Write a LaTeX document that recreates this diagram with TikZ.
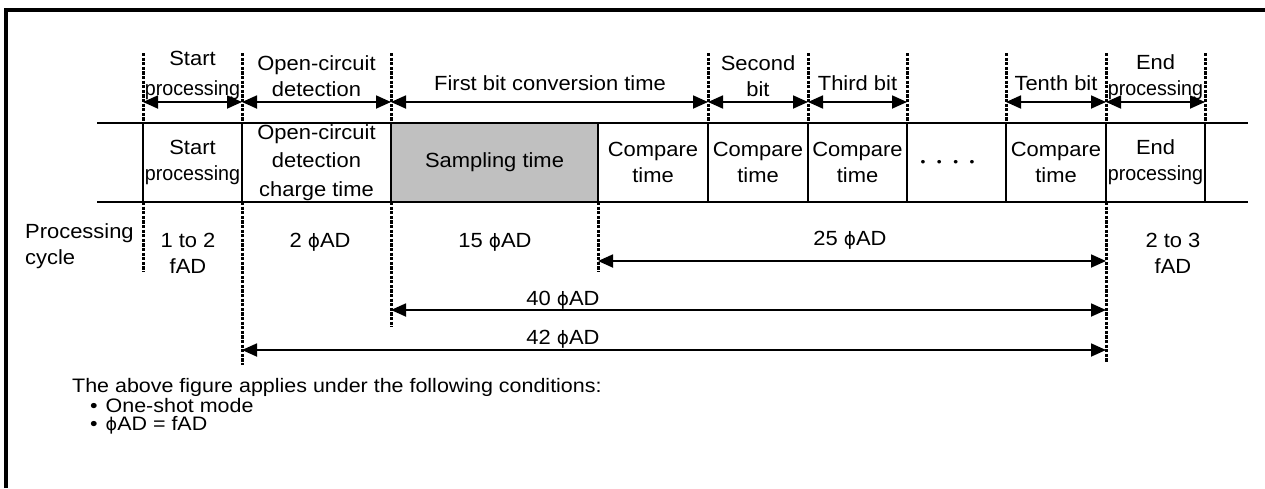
\documentclass[tikz,border=0pt]{standalone}
\usepackage{fontspec}
\setmainfont{Liberation Sans}[FakeStretch=1.07]
\newfontfamily\tightfont{Liberation Sans}[FakeStretch=0.96]
\newfontfamily\notefont{Liberation Sans}[FakeStretch=1.1]
\newfontfamily\phifont{DejaVu Sans}[Scale=0.9]
\usetikzlibrary{arrows.meta, positioning}

\definecolor{sampgray}{RGB}{192,192,192}
\newcommand\phad{{\phifont ϕ}AD}

\tikzset{
    frameline/.style={line width=4pt},
    rowline/.style={line width=2pt},
    guide/.style={line width=3pt, dash pattern=on 3.2pt off 1.4pt},
    dim/.style={line width=1.8pt, {Triangle[length=15pt,width=13pt]}-{Triangle[length=15pt,width=13pt]}},
    cell/.style={draw, line width=2pt, minimum height=79pt, inner sep=0pt, outer sep=0pt, align=center},
    lbl/.style={inner sep=0pt, align=center},
    note/.style={inner sep=0pt, anchor=base west, font=\notefont\fontsize{19.5}{20}\selectfont},
}

\begin{document}
\begin{tikzpicture}[x=1pt, y=-1pt, font=\fontsize{20.5}{26}\selectfont]
    \useasboundingbox (0,0) rectangle (1265,488);
    \draw[frameline] (6,488) -- (6,10) -- (1265,10);

    % conversion row
    \node[cell, minimum width=99pt] (start) at (192.5,162.5) {Start\\{\tightfont processing}};
    \node[cell, minimum width=149pt, font=\fontsize{20.5}{28.5}\selectfont, right=0pt of start] (open) {Open-circuit\\detection\\charge time};
    \node[cell, minimum width=207pt, fill=sampgray, right=0pt of open] (samp) {Sampling time};
    \node[cell, minimum width=110pt, right=0pt of samp] (cmpa) {Compare\\time};
    \node[cell, minimum width=100pt, right=0pt of cmpa] (cmpb) {Compare\\time};
    \node[cell, minimum width=99pt, right=0pt of cmpb] (cmpc) {Compare\\time};
    \node[cell, minimum width=99pt, right=0pt of cmpc] (dots) {\raisebox{-7pt}{\fontsize{13}{13}\selectfont •\hspace{11.5pt}•\hspace{11.5pt}•\hspace{11.5pt}•}\hspace{18pt}};
    \node[cell, minimum width=100pt, right=0pt of dots] (cmpj) {Compare\\time};
    \node[cell, minimum width=99pt, right=0pt of cmpj] (endp) {End\\{\tightfont processing}};

    \coordinate (rowtl) at (97,123);
    \coordinate (rowbl) at (97,202);
    \coordinate (rowtr) at (1248,123);
    \coordinate (rowbr) at (1248,202);
    \draw[rowline] (rowtl) -- (start.north west);
    \draw[rowline] (rowbl) -- (start.south west);
    \draw[rowline] (endp.north east) -- (rowtr);
    \draw[rowline] (endp.south east) -- (rowbr);

    % dotted guides
    \foreach \x in {143,242,391,708,808,907,1006,1106,1205}
        \draw[guide] (\x,53) -- (\x,123);
    \foreach \x/\y in {143/272,242/365,391/327,598/272,1106/362}
        \draw[guide] (\x,202) -- (\x,\y);

    % time spans on top
    \foreach \n/\x in {t0/143,t1/242,t2/391,t3/708,t4/808,t5/907,t6/1006,t7/1106,t8/1205}
        \coordinate (\n) at (\x,102);
    \draw[dim] (t0) -- (t1);
    \draw[dim] (t1) -- (t2);
    \draw[dim] (t2) -- (t3);
    \draw[dim] (t3) -- (t4);
    \draw[dim] (t4) -- (t5);
    \draw[dim] (t6) -- (t7);
    \draw[dim] (t7) -- (t8);

    \node[lbl, anchor=south, font=\fontsize{20.5}{30}\selectfont] (lstart) at (192.5,100) {Start\\{\tightfont processing}};
    \node[lbl, anchor=south] (lopen) at (316.5,97) {Open-circuit\\detection};
    \node[lbl, anchor=base] (lfirst) at (550,90) {First bit conversion time};
    \node[lbl, anchor=south] (lsecond) at (758,97) {Second\\bit};
    \node[lbl, anchor=base] (lthird) at (857.5,90) {Third bit};
    \node[lbl, anchor=base] (ltenth) at (1056,90) {Tenth bit};
    \node[lbl, anchor=south] (lend) at (1155.5,100) {End\\{\tightfont processing}};

    % processing cycle
    \node[lbl, align=left, anchor=west] (cycle) at (25,246) {Processing\\cycle};
    \node[lbl] (cstart) at (188,253) {1 to 2\\fAD};
    \node[lbl, anchor=base] (copen) at (320,247) {2 \phad};
    \node[lbl, anchor=base] (csamp) at (495,247) {15 \phad};
    \node[lbl, anchor=base] (ccmp) at (850,245) {25 \phad};
    \node[lbl] (cend) at (1173,253) {2 to 3\\fAD};

    \coordinate (sa) at (598,261);
    \coordinate (sb) at (1106,261);
    \coordinate (fa) at (391,310);
    \coordinate (fb) at (1106,310);
    \coordinate (ta) at (242,350);
    \coordinate (tb) at (1106,350);
    \draw[dim] (sa) -- (sb);
    \draw[dim] (fa) -- (fb);
    \draw[dim] (ta) -- (tb);
    \node[lbl, anchor=base] (cforty) at (563,305) {40 \phad};
    \node[lbl, anchor=base] (cfortytwo) at (563,344) {42 \phad};

    % conditions
    \node[note] (cond) at (72,392) {The above figure applies under the following conditions:};
    \node[note] (conda) at (90,412) {•\hspace{8pt}One-shot mode};
    \node[note] (condb) at (90,430) {•\hspace{8pt}\phad{} = fAD};
\end{tikzpicture}
\end{document}
